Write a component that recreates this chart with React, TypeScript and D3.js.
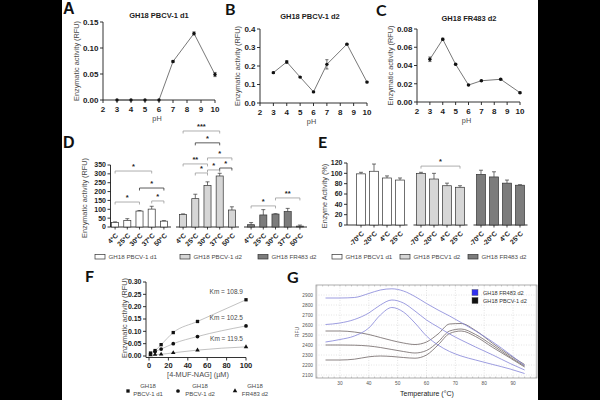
import React from 'react';
import * as d3 from 'd3';

const SANS = "'Liberation Sans', Arial, Helvetica, sans-serif";
const HEAD = "Lato, 'Open Sans', 'Liberation Sans', sans-serif";
const INK = '#1c1c1c';
const SOFT = '#4a4a4a';

// ---------- pH profiles (A–C) ----------
const phLevels = [3, 4, 5, 6, 7, 8.5, 10];
const phTicks = [2, 3, 4, 5, 6, 7, 8, 9, 10];
const phPbcvD1 = [0, 0, 0, 0, 0.074, 0.128, 0.049];
const phPbcvD1Err = [0, 0, 0, 0, 0.002, 0.003, 0.004];
const phPbcvD2 = [0.164, 0.222, 0.14, 0.06, 0.209, 0.318, 0.113];
const phPbcvD2Err = [0.004, 0.007, 0.003, 0.003, 0.025, 0.004, 0.004];
const phFr483 = [0.0468, 0.0687, 0.0413, 0.0186, 0.0233, 0.0249, 0.0102];
const phFr483Err = [0.0025, 0.0012, 0.0008, 0.0006, 0.0006, 0.0006, 0.0008];

// ---------- temperature optimum (D) ----------
const tempLabels = ['4°C', '25°C', '30°C', '37°C', '50°C'];
const tempEnzymes = ['GH18 PBCV-1 d1', 'GH18 PBCV-1 d2', 'GH18 FR483 d2'];
const tempPbcvD1 = [25, 37, 90, 101, 33];
const tempPbcvD1Err = [4, 10, 3, 16, 3];
const tempPbcvD2 = [71, 160, 235, 288, 96];
const tempPbcvD2Err = [3, 25, 20, 15, 18];
const tempFr483 = [13, 68, 73, 87, 5];
const tempFr483Err = [12, 30, 2, 18, 6];
const tempTicks = [0, 50, 100, 150, 200, 250, 300, 350];

// significance brackets: enzyme group, from/to temperature index, height (RFU), label
const sigGroup = [0, 0, 0, 0, 1, 1, 1, 1, 1, 1, 1, 2, 2];
const sigFrom = [0, 2, 0, 3, 0, 1, 0, 2, 1, 2, 3, 0, 2];
const sigTo = [3, 4, 2, 4, 3, 3, 2, 4, 2, 3, 4, 2, 4];
const sigLevel = [316, 220, 141, 147, 542, 475, 356, 390, 305, 322, 333, 119, 164];
const sigLabel = ['*', '*', '*', '*', '***', '*', '**', '*', '*', '*', '*', '*', '**'];

// ---------- storage stability (E) ----------
const storageLabels = ['-70°C', '-20°C', '4°C', '25°C'];
const storageEnzymes = ['GH18 PBCV1 d1', 'GH18 PBCV1 d2', 'GH18 FR483 d2'];
const storePbcvD1 = [99, 104, 91, 87];
const storePbcvD1Err = [3, 14, 4, 4];
const storePbcvD2 = [100, 89, 76, 73];
const storePbcvD2Err = [2, 11, 5, 3];
const storeFr483 = [98, 93, 81, 77];
const storeFr483Err = [8, 10, 6, 1];
const storeTicks = [0, 20, 40, 60, 80, 100, 120];
const storeSig = { group: 1, from: 0, to: 3, level: 114, label: '*' };

// ---------- kinetics (F) ----------
const substrateConc = [1.56, 6.25, 12.5, 25, 50, 100];
const kinPbcvD1 = [0.012, 0.022, 0.046, 0.095, 0.14, 0.228];
const kinPbcvD2 = [0.008, 0.018, 0.028, 0.05, 0.079, 0.122];
const kinFr483 = [0.004, 0.006, 0.007, 0.013, 0.024, 0.037];
const kmValues = [108.9, 102.5, 119.5];
const kinNames = [['GH18', 'PBCV-1 d1'], ['GH18', 'PBCV-1 d2'], ['GH18', 'FR483 d2']];
const concTicks = [0, 20, 40, 60, 80, 100];
const kinTicks = [0, 0.05, 0.1, 0.15, 0.2, 0.25, 0.3];

// ---------- thermal shift (G) ----------
const meltTemps = [25, 30, 35, 40, 44, 48, 52, 56, 60, 64, 68, 72, 77, 83, 89, 94];
const meltFr483A = [2870, 2870, 2875, 2915, 2950, 2962, 2940, 2885, 2815, 2750, 2690, 2625, 2540, 2430, 2305, 2195];
const meltFr483B = [2605, 2620, 2655, 2720, 2800, 2850, 2820, 2740, 2650, 2580, 2510, 2450, 2380, 2300, 2215, 2150];
const meltFr483C = [2430, 2455, 2490, 2570, 2700, 2775, 2730, 2620, 2490, 2400, 2335, 2290, 2250, 2205, 2160, 2115];
const meltPbcvA = [2540, 2540, 2530, 2505, 2475, 2445, 2420, 2405, 2430, 2510, 2610, 2615, 2545, 2415, 2295, 2205];
const meltPbcvB = [2400, 2400, 2398, 2390, 2375, 2355, 2335, 2320, 2345, 2430, 2540, 2560, 2505, 2395, 2280, 2190];
const meltPbcvC = [2250, 2250, 2258, 2282, 2290, 2285, 2275, 2268, 2300, 2400, 2515, 2540, 2485, 2375, 2270, 2180];
const meltTempTicks = [30, 40, 50, 60, 70, 80, 90];
const meltRfuTicks = [2100, 2200, 2300, 2400, 2500, 2600, 2700, 2800, 2900];
const meltLegend = ['GH18 FR483 d2', 'GH18 PBCV-1 d2'];

// ---------- shared pieces ----------
function Letter({ x, y, text, font }: { x: number; y: number; text: string; font: string }) {
  return (
    <text x={x} y={y} fontFamily={font} fontWeight="bold" fontSize={16} fill="#111">
      {text}
    </text>
  );
}

function RotLabel({ x, y, text, size = 7.3 }: { x: number; y: number; text: string; size?: number }) {
  return (
    <text transform={`translate(${x},${y}) rotate(-90)`} textAnchor="middle" fontFamily={SANS} fontSize={size} fill={SOFT}>
      {text}
    </text>
  );
}

function YAxis({ x, scale, ticks, fmt, size }: { x: number; scale: d3.ScaleLinear<number, number>; ticks: number[]; fmt: (v: number) => string; size: number }) {
  return (
    <g>
      <line x1={x} x2={x} y1={scale(ticks[ticks.length - 1])} y2={scale(ticks[0])} stroke={INK} strokeWidth={0.9} />
      {ticks.map((t) => (
        <g key={t}>
          <line x1={x - 3} x2={x} y1={scale(t)} y2={scale(t)} stroke={INK} strokeWidth={0.9} />
          <text x={x - 4.5} y={scale(t)} dy="0.35em" textAnchor="end" fontFamily={SANS} fontWeight="bold" fontSize={size} fill={INK}>
            {fmt(t)}
          </text>
        </g>
      ))}
    </g>
  );
}

// ---------- A–C: activity vs pH ----------
type PhProps = {
  letter: string; letterX: number; letterY: number; letterFont: string;
  title: string; titleX: number; titleY: number;
  left: number; right: number; top: number; bottom: number;
  yMax: number; yStep: number; fmt: (v: number) => string;
  values: number[]; errs: number[]; yLabelX: number;
};

function PhPanel(p: PhProps) {
  const x = d3.scaleLinear().domain([2, 10]).range([p.left, p.right]);
  const y = d3.scaleLinear().domain([0, p.yMax]).range([p.bottom, p.top]);
  const yTicks = d3.range(0, p.yMax + p.yStep / 2, p.yStep);
  const pts = phLevels.map((ph, i) => ({ ph, v: p.values[i], e: p.errs[i] }));
  const path = d3.line<{ ph: number; v: number }>().x((d) => x(d.ph)).y((d) => y(d.v))(pts) || '';
  const axisY = p.bottom;
  return (
    <g>
      <Letter x={p.letterX} y={p.letterY} text={p.letter} font={p.letterFont} />
      <text x={p.titleX} y={p.titleY} textAnchor="middle" fontFamily={SANS} fontWeight="bold" fontSize={7.5} fill={INK}>
        {p.title}
      </text>
      <YAxis x={x(2)} scale={y} ticks={yTicks} fmt={p.fmt} size={8} />
      <line x1={x(2)} x2={x(10)} y1={axisY} y2={axisY} stroke={INK} strokeWidth={0.9} />
      {phTicks.map((t) => (
        <g key={t}>
          <line x1={x(t)} x2={x(t)} y1={axisY} y2={axisY + 3} stroke={INK} strokeWidth={0.9} />
          <text x={x(t)} y={axisY + 11.5} textAnchor="middle" fontFamily={SANS} fontWeight="bold" fontSize={8} fill={INK}>
            {t}
          </text>
        </g>
      ))}
      <text x={(x(2) + x(10)) / 2 - 2} y={axisY + 21} textAnchor="middle" fontFamily={SANS} fontSize={7.3} fill={SOFT}>
        pH
      </text>
      <RotLabel x={p.yLabelX} y={(p.top + p.bottom) / 2} text="Enzymatic activity (RFU)" />
      <path d={path} fill="none" stroke="#555" strokeWidth={0.8} />
      {pts.map((d) =>
        d.e > 0 ? (
          <g key={`e${d.ph}`} stroke="#333" strokeWidth={0.7}>
            <line x1={x(d.ph)} x2={x(d.ph)} y1={y(d.v - d.e)} y2={y(d.v + d.e)} />
            <line x1={x(d.ph) - 1.6} x2={x(d.ph) + 1.6} y1={y(d.v + d.e)} y2={y(d.v + d.e)} />
            <line x1={x(d.ph) - 1.6} x2={x(d.ph) + 1.6} y1={y(d.v - d.e)} y2={y(d.v - d.e)} />
          </g>
        ) : null
      )}
      {pts.map((d) => (
        <circle key={`p${d.ph}`} cx={x(d.ph)} cy={y(d.v)} r={1.7} fill="#111" />
      ))}
    </g>
  );
}

// ---------- grouped bars (D, E) ----------
type BarProps = {
  letter: string; letterX: number; letterFont: string;
  groups: string[]; cats: string[]; series: number[][]; errs: number[][];
  fills: string[]; rangeX: [number, number]; groupPad: number; barPad: number;
  axisX: number; yMax: number; yTop: number; yBottom: number; ticks: number[];
  yLabel: string; yLabelX: number; legendX: number[]; legendY: number;
  children?: (gx: d3.ScaleBand<string>, bx: d3.ScaleBand<string>, y: d3.ScaleLinear<number, number>) => React.ReactNode;
};

function GroupedBars(p: BarProps) {
  const y = d3.scaleLinear().domain([0, p.yMax]).range([p.yBottom, p.yTop]);
  const gx = d3.scaleBand<string>().domain(p.groups).range(p.rangeX).paddingInner(p.groupPad);
  const bx = d3.scaleBand<string>().domain(p.cats).range([0, gx.bandwidth()]).paddingInner(p.barPad).paddingOuter(p.barPad / 2);
  return (
    <g>
      <Letter x={p.letterX} y={148} text={p.letter} font={p.letterFont} />
      <YAxis x={p.axisX} scale={y} ticks={p.ticks} fmt={(v) => `${v}`} size={7} />
      <RotLabel x={p.yLabelX} y={(p.yTop + p.yBottom) / 2 + 2} text={p.yLabel} />
      {p.groups.map((g, gi) => {
        const g0 = gx(g) as number;
        const segL = gi === 0 ? p.axisX : g0 - 1;
        return (
          <g key={g}>
            <line x1={segL} x2={g0 + gx.bandwidth() + 1} y1={p.yBottom} y2={p.yBottom} stroke={INK} strokeWidth={0.9} />
            {p.cats.map((c, ci) => {
              const cx = g0 + (bx(c) as number) + bx.bandwidth() / 2;
              const v = p.series[gi][ci];
              const e = p.errs[gi][ci];
              return (
                <g key={c}>
                  <line x1={cx} x2={cx} y1={y(v)} y2={y(v + e)} stroke="#333" strokeWidth={0.7} />
                  <line x1={cx - 2} x2={cx + 2} y1={y(v + e)} y2={y(v + e)} stroke="#333" strokeWidth={0.7} />
                  <rect x={g0 + (bx(c) as number)} y={y(v)} width={bx.bandwidth()} height={y(0) - y(v)} fill={p.fills[gi]} stroke="#333" strokeWidth={0.7} />
                  <line x1={cx} x2={cx} y1={p.yBottom} y2={p.yBottom + 2.5} stroke={INK} strokeWidth={0.8} />
                  <text transform={`translate(${cx + 3.5},${p.yBottom + 9}) rotate(-45)`} textAnchor="end" fontFamily={SANS} fontWeight="bold" fontSize={6.8} fill={INK}>
                    {c}
                  </text>
                </g>
              );
            })}
          </g>
        );
      })}
      {p.groups.map((g, gi) => (
        <g key={`lg${g}`}>
          <rect x={p.legendX[gi]} y={p.legendY - 4.5} width={10} height={4.5} fill={p.fills[gi]} stroke="#333" strokeWidth={0.7} />
          <text x={p.legendX[gi] + 13.5} y={p.legendY} fontFamily={SANS} fontSize={6.2} fill={SOFT}>
            {g}
          </text>
        </g>
      ))}
      {p.children ? p.children(gx, bx, y) : null}
    </g>
  );
}

function Bracket({ x1, x2, yy, label, color }: { x1: number; x2: number; yy: number; label: string; color: string }) {
  return (
    <g>
      <path d={`M${x1},${yy + 2.5}V${yy}H${x2}V${yy + 2.5}`} fill="none" stroke={color} strokeWidth={0.8} />
      <text x={(x1 + x2) / 2} y={yy - 1.8} textAnchor="middle" fontFamily={SANS} fontWeight="bold" fontSize={7.5} fill="#222">
        {label}
      </text>
    </g>
  );
}

const darkBrackets = [1, 5, 10];

// ---------- F: kinetics ----------
function KineticsPanel() {
  const x = d3.scaleLinear().domain([0, 100]).range([149, 246]);
  const y = d3.scaleLinear().domain([0, 0.3]).range([356, 282]);
  const all = [kinPbcvD1, kinPbcvD2, kinFr483];
  const symbols = [d3.symbolSquare, d3.symbolCircle, d3.symbolTriangle];
  const sizes = [11, 11, 9];
  const line = d3.line<number>().x((_, i) => x(substrateConc[i])).y((v) => y(v)).curve(d3.curveMonotoneX);
  const axisX = 146;
  const axisY = 357.5;
  const legendMarkX = [128, 178, 235];
  const legendTextX = [148, 200, 255];
  return (
    <g>
      <Letter x={85} y={282} text="F" font={HEAD} />
      <line x1={axisX} x2={axisX} y1={y(0.3)} y2={axisY} stroke={INK} strokeWidth={0.9} />
      {kinTicks.map((t) => (
        <g key={t}>
          <line x1={axisX - 3} x2={axisX} y1={y(t)} y2={y(t)} stroke={INK} strokeWidth={0.9} />
          <text x={axisX - 4.5} y={y(t)} dy="0.35em" textAnchor="end" fontFamily={SANS} fontWeight="bold" fontSize={7} fill={INK}>
            {d3.format('.2f')(t)}
          </text>
        </g>
      ))}
      <line x1={axisX} x2={x(100)} y1={axisY} y2={axisY} stroke={INK} strokeWidth={0.9} />
      {concTicks.map((t) => (
        <g key={t}>
          <line x1={x(t)} x2={x(t)} y1={axisY} y2={axisY + 3} stroke={INK} strokeWidth={0.9} />
          <text x={x(t)} y={axisY + 10.5} textAnchor="middle" fontFamily={SANS} fontWeight="bold" fontSize={7.5} fill={INK}>
            {t}
          </text>
        </g>
      ))}
      <text x={198} y={377} textAnchor="middle" fontFamily={SANS} fontSize={7.3} fill={SOFT}>
        [4-MUF-NAG] (µM)
      </text>
      <RotLabel x={127} y={318} text="Enzymatic activity (RFU)" />
      {all.map((vals, si) => (
        <g key={si}>
          <path d={line(vals) || ''} fill="none" stroke="#a8a8a8" strokeWidth={0.7} />
          {vals.map((v, i) => (
            <path key={i} transform={`translate(${x(substrateConc[i])},${y(v)})`} d={d3.symbol(symbols[si], sizes[si])() || ''} fill="#111" />
          ))}
          <text x={x(100) - 3} y={y(vals[vals.length - 1]) - 5.5} textAnchor="end" fontFamily={SANS} fontSize={6.5} fill={SOFT}>
            {`Km = ${kmValues[si]}`}
          </text>
        </g>
      ))}
      {kinNames.map((nm, si) => (
        <g key={`lg${si}`}>
          <path transform={`translate(${legendMarkX[si]},${391})`} d={d3.symbol(symbols[si], sizes[si])() || ''} fill="#111" />
          <text x={legendTextX[si]} y={387.5} textAnchor="middle" fontFamily={SANS} fontSize={6} fill={SOFT}>
            {nm[0]}
          </text>
          <text x={legendTextX[si]} y={396} textAnchor="middle" fontFamily={SANS} fontSize={6} fill={SOFT}>
            {nm[1]}
          </text>
        </g>
      ))}
    </g>
  );
}

// ---------- G: thermal shift ----------
function MeltPanel() {
  const left = 316, right = 537, top = 285, bottom = 378;
  const x = d3.scaleLinear().domain([21.7, 98.3]).range([left, right]);
  const y = d3.scaleLinear().domain([2070, 3000]).range([bottom, top]);
  const line = d3.line<number>().x((_, i) => x(meltTemps[i])).y((v) => y(v)).curve(d3.curveMonotoneX);
  const blue = [meltFr483A, meltFr483B, meltFr483C];
  const gray = [meltPbcvA, meltPbcvB, meltPbcvC];
  const minorX = d3.range(22, 98.3, 2);
  const minorY = d3.range(2080, 3000, 20);
  return (
    <g>
      <Letter x={287} y={283} text="G" font={HEAD} />
      <rect x={left} y={top} width={right - left} height={bottom - top} fill="#fff" stroke="#9a9a9a" strokeWidth={0.8} />
      {meltTempTicks.map((t) => (
        <line key={`gx${t}`} x1={x(t)} x2={x(t)} y1={top} y2={bottom} stroke="#c8c8c8" strokeWidth={0.5} strokeDasharray="1,1.5" />
      ))}
      {meltRfuTicks.map((t) => (
        <line key={`gy${t}`} x1={left} x2={right} y1={y(t)} y2={y(t)} stroke="#c8c8c8" strokeWidth={0.5} strokeDasharray="1,1.5" />
      ))}
      {minorX.map((t) => (
        <g key={`mx${t}`} stroke="#9a9a9a" strokeWidth={0.5}>
          <line x1={x(t)} x2={x(t)} y1={bottom} y2={bottom - 1.5} />
          <line x1={x(t)} x2={x(t)} y1={top} y2={top + 1.5} />
        </g>
      ))}
      {minorY.map((t) => (
        <g key={`my${t}`} stroke="#9a9a9a" strokeWidth={0.5}>
          <line x1={left} x2={left + 1.5} y1={y(t)} y2={y(t)} />
          <line x1={right} x2={right - 1.5} y1={y(t)} y2={y(t)} />
        </g>
      ))}
      {meltTempTicks.map((t) => (
        <text key={`tx${t}`} x={x(t)} y={bottom + 6.5} textAnchor="middle" fontFamily={SANS} fontSize={4.8} fill="#555">
          {t}
        </text>
      ))}
      {meltRfuTicks.map((t) => (
        <text key={`ty${t}`} x={left - 3} y={y(t)} dy="0.35em" textAnchor="end" fontFamily={SANS} fontSize={4.8} fill="#555">
          {t}
        </text>
      ))}
      <text x={427} y={396} textAnchor="middle" fontFamily={SANS} fontSize={7} fill="#222">
        Temperature (°C)
      </text>
      <RotLabel x={299} y={332} text="RFU" size={5} />
      {gray.map((vals, i) => (
        <path key={`g${i}`} d={line(vals) || ''} fill="none" stroke="#6e6464" strokeWidth={0.8} />
      ))}
      {blue.map((vals, i) => (
        <path key={`b${i}`} d={line(vals) || ''} fill="none" stroke="#8484d8" strokeWidth={0.8} />
      ))}
      {meltLegend.map((nm, i) => (
        <g key={nm}>
          <rect x={472} y={289.5 + i * 8} width={6} height={6} fill={i === 0 ? '#3030f0' : '#111'} stroke="#555" strokeWidth={0.4} />
          <text x={483} y={295 + i * 8} fontFamily={SANS} fontSize={5.6} fill="#333">
            {nm}
          </text>
        </g>
      ))}
    </g>
  );
}

export default function App() {
  const tempSeries = [tempPbcvD1, tempPbcvD2, tempFr483];
  const tempErrs = [tempPbcvD1Err, tempPbcvD2Err, tempFr483Err];
  const storeSeries = [storePbcvD1, storePbcvD2, storeFr483];
  const storeErrs = [storePbcvD1Err, storePbcvD2Err, storeFr483Err];
  const barFills = ['#ffffff', '#d6d6d6', '#7c7c7c'];

  return (
    <svg width={600} height={400} viewBox="0 0 600 400" style={{ position: 'absolute', left: 0, top: 0, background: '#fff' }}>
      <rect x={0} y={0} width={600} height={400} fill="#fff" />

      <PhPanel letter="A" letterX={63} letterY={14} letterFont={SANS} title="GH18 PBCV-1 d1" titleX={159} titleY={18}
        left={103} right={215} top={22} bottom={100} yMax={0.15} yStep={0.05} fmt={d3.format('.2f')}
        values={phPbcvD1} errs={phPbcvD1Err} yLabelX={79} />
      <PhPanel letter="B" letterX={225} letterY={15} letterFont={HEAD} title="GH18 PBCV-1 d2" titleX={310} titleY={19}
        left={260} right={367} top={29} bottom={103} yMax={0.4} yStep={0.1} fmt={d3.format('.1f')}
        values={phPbcvD2} errs={phPbcvD2Err} yLabelX={240} />
      <PhPanel letter="C" letterX={376} letterY={16} letterFont={HEAD} title="GH18 FR483 d2" titleX={469} titleY={21}
        left={417} right={520} top={29} bottom={102} yMax={0.08} yStep={0.02} fmt={d3.format('.2f')}
        values={phFr483} errs={phFr483Err} yLabelX={393} />

      <GroupedBars letter="D" letterX={63} letterFont={SANS} groups={tempEnzymes} cats={tempLabels}
        series={tempSeries} errs={tempErrs} fills={barFills} rangeX={[109, 306]} groupPad={0.103} barPad={0.42}
        axisX={110.5} yMax={350} yTop={165} yBottom={227} ticks={tempTicks} yLabel="Enzymatic activity (RFU)" yLabelX={87}
        legendX={[95, 180, 258]} legendY={259}>
        {(gx, bx, y) =>
          sigGroup.map((g, i) => {
            const g0 = gx(tempEnzymes[g]) as number;
            const c = (k: number) => g0 + (bx(tempLabels[k]) as number) + bx.bandwidth() / 2;
            return <Bracket key={i} x1={c(sigFrom[i])} x2={c(sigTo[i])} yy={y(sigLevel[i])} label={sigLabel[i]}
              color={darkBrackets.includes(i) ? '#333' : '#9a9a9a'} />;
          })
        }
      </GroupedBars>

      <GroupedBars letter="E" letterX={318} letterFont={HEAD} groups={storageEnzymes} cats={storageLabels}
        series={storeSeries} errs={storeErrs} fills={barFills} rangeX={[354.5, 526.5]} groupPad={0.133} barPad={0.31}
        axisX={347} yMax={120} yTop={163} yBottom={225} ticks={storeTicks} yLabel="Enzyme Activity (%)" yLabelX={327}
        legendX={[332, 400, 468]} legendY={259}>
        {(gx, bx, y) => {
          const g0 = gx(storageEnzymes[storeSig.group]) as number;
          const c = (k: number) => g0 + (bx(storageLabels[k]) as number) + bx.bandwidth() / 2;
          return <Bracket x1={c(storeSig.from)} x2={c(storeSig.to)} yy={y(storeSig.level)} label={storeSig.label} color="#9a9a9a" />;
        }}
      </GroupedBars>

      <KineticsPanel />
      <MeltPanel />

      <rect x={0} y={0} width={62} height={400} fill="#000" />
      <rect x={538} y={0} width={62} height={400} fill="#000" />
    </svg>
  );
}
